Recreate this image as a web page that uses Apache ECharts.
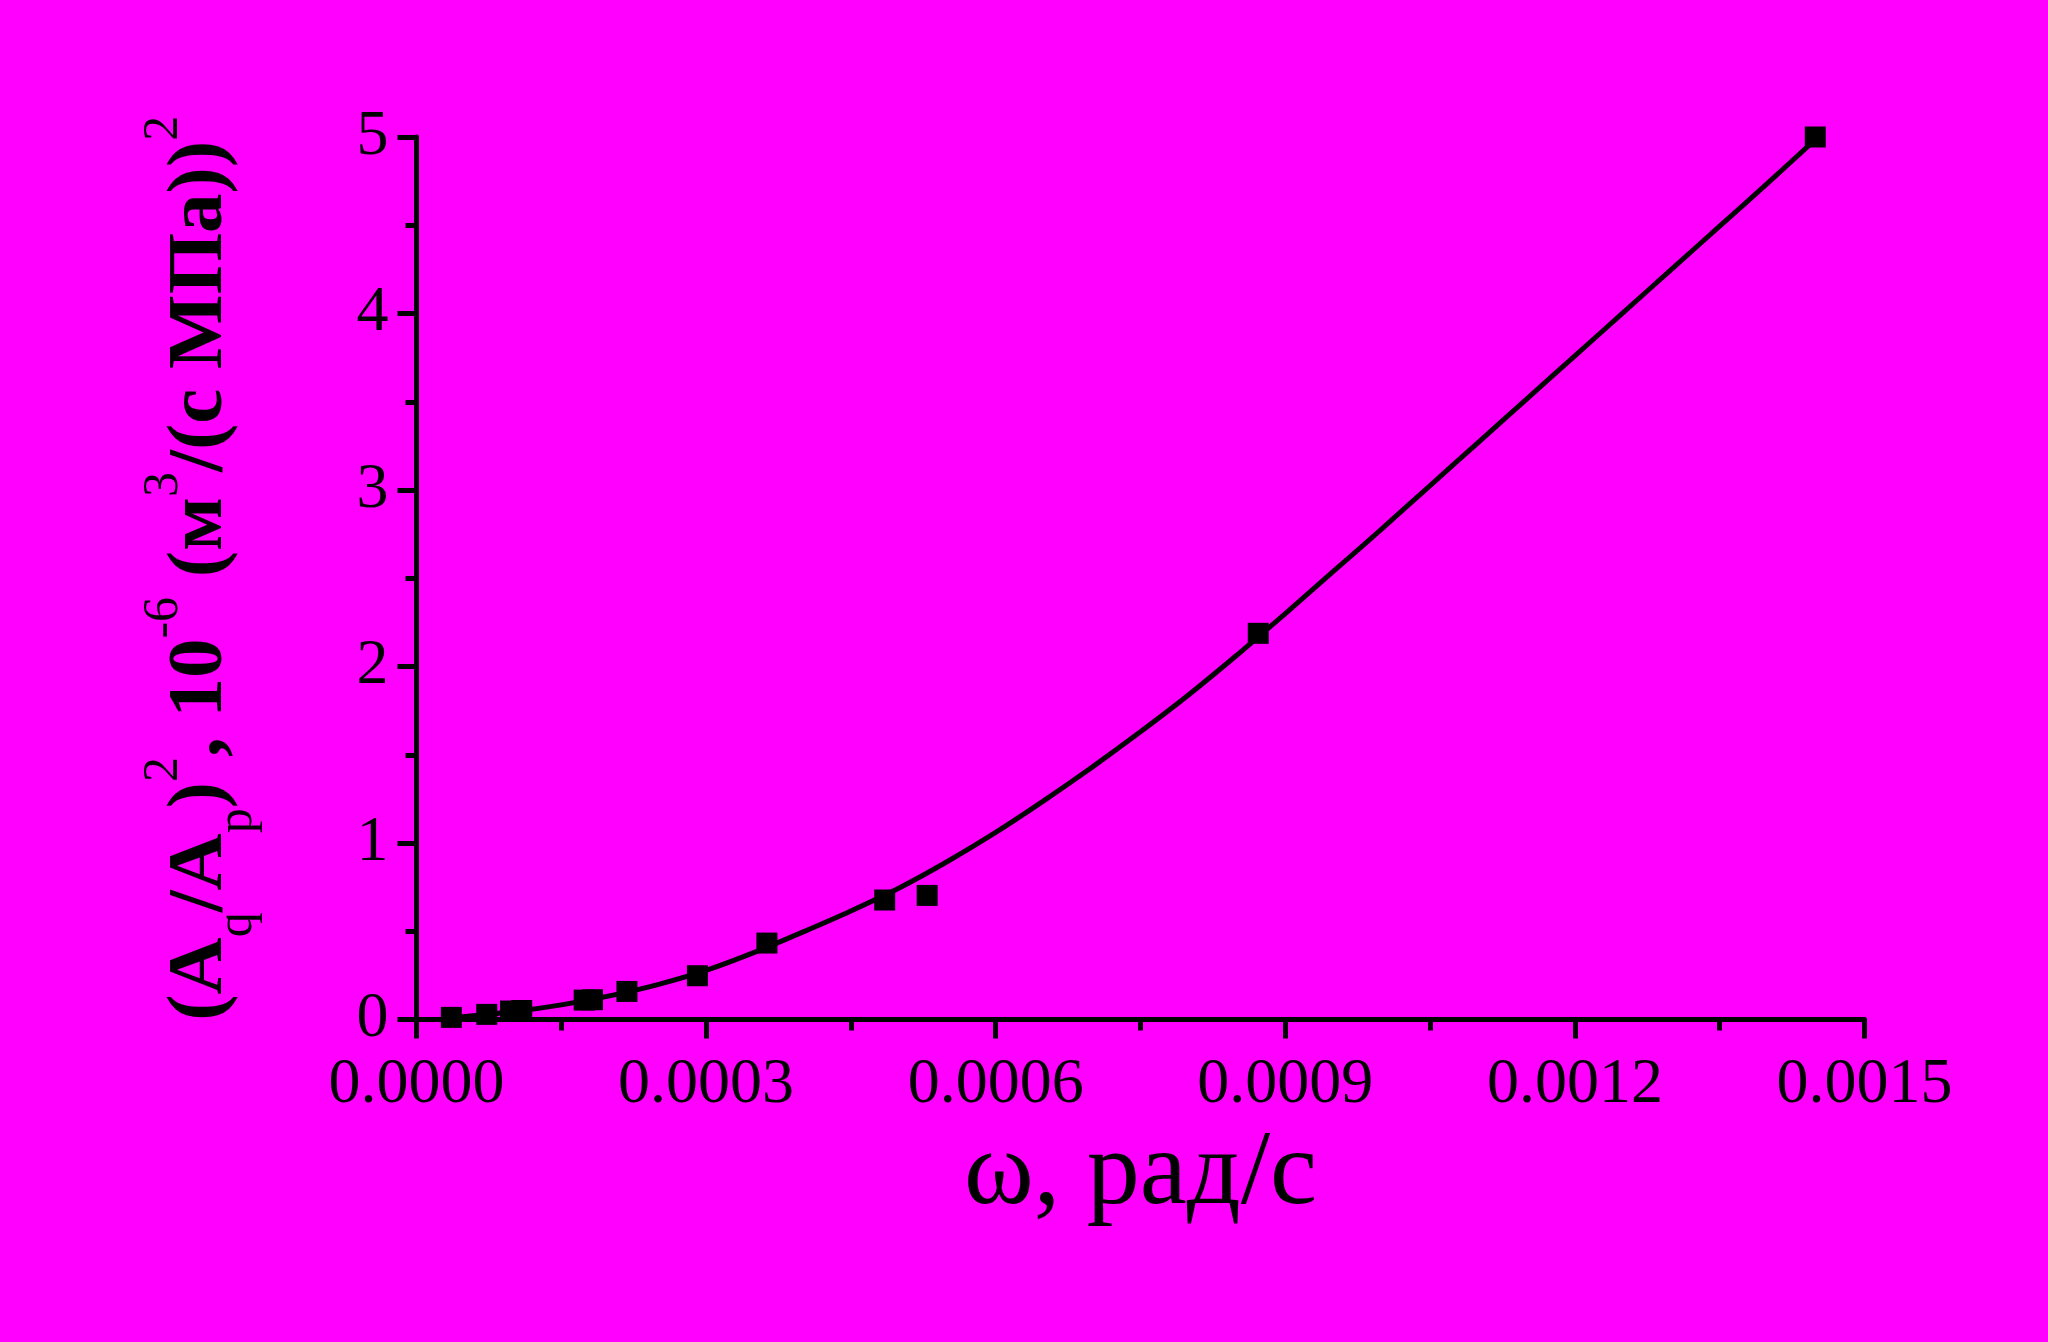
<!DOCTYPE html>
<html>
<head>
<meta charset="utf-8">
<script src="https://cdn.jsdelivr.net/npm/echarts@6/dist/echarts.min.js"></script>
<style>
html,body{margin:0;padding:0;background:#ff00ff;}
#chart{width:2048px;height:1342px;}
</style>
</head>
<body>
<div id="chart"></div>
<script>
// Measured points: omega (rad/s) and (Aq/Ap)^2 (10^-6 (m^3/(s MPa))^2)
const pointX = [0.0000361, 0.0000728, 0.0000974, 0.000109, 0.0001737, 0.0001823, 0.000218, 0.000291, 0.000363, 0.000485, 0.000529, 0.000872, 0.001449];
const pointY = [0.012, 0.029, 0.048, 0.051, 0.110, 0.112, 0.159, 0.248, 0.433, 0.677, 0.703, 2.188, 5.0];

// Fitted curve
const curveX = [0.0000361, 0.00005, 0.0001, 0.00015, 0.0002, 0.00025, 0.0003, 0.00035, 0.0004, 0.00045, 0.0005, 0.00055, 0.0006, 0.00065, 0.0007, 0.00075, 0.0008, 0.00085, 0.0009, 0.00095, 0.001, 0.00105, 0.0011, 0.00115, 0.0012, 0.00125, 0.0013, 0.00135, 0.0014, 0.001449];
const curveY = [0.012, 0.017, 0.044, 0.083, 0.134, 0.198, 0.278, 0.380, 0.495, 0.615, 0.745, 0.895, 1.060, 1.240, 1.430, 1.630, 1.840, 2.065, 2.300, 2.540, 2.780, 3.025, 3.270, 3.515, 3.760, 4.005, 4.250, 4.495, 4.740, 4.985];

const xTicks = {min: 0, max: 0.0015, interval: 0.0003};
const yTicks = {min: 0, max: 5, interval: 1};

const yTitle = '{n|(A}{sub|q}{n|/A}{sub|p}{n|)}{sup|2}{n|, 10}{sup|-6}{n| (м}{sup|3}{n|/(с МПа))}{sup|2}';
const xTitle = 'ω, рад/с';

const serif = '"Liberation Serif", "Times New Roman", serif';
const chart = echarts.init(document.getElementById('chart'), null, {renderer: 'canvas'});

const pts = pointX.map((x, i) => [x, pointY[i]]);
const crv = curveX.map((x, i) => [x, curveY[i]]);

chart.setOption({
  backgroundColor: '#ff00ff',
  animation: false,
  grid: {left: 416.5, right: 183.5, top: 137, bottom: 322.5},
  xAxis: {
    type: 'value', min: xTicks.min, max: xTicks.max, interval: xTicks.interval,
    name: xTitle, nameLocation: 'middle', nameGap: 96,
    nameTextStyle: {fontFamily: serif, fontSize: 106, color: '#000', lineHeight: 106},
    axisLine: {show: true, onZero: false, lineStyle: {color: '#000', width: 5}},
    axisTick: {show: true, inside: false, length: 19, lineStyle: {color: '#000', width: 5}},
    minorTick: {show: true, splitNumber: 2, length: 11, lineStyle: {color: '#000', width: 5}},
    splitLine: {show: false},
    axisLabel: {fontFamily: serif, fontSize: 64, color: '#000', margin: 34, lineHeight: 64,
      formatter: v => v.toFixed(4)}
  },
  yAxis: {
    type: 'value', min: yTicks.min, max: yTicks.max, interval: yTicks.interval,
    name: yTitle, nameLocation: 'middle', nameGap: 154, nameRotate: 90,
    nameTextStyle: {
      color: '#000',
      padding: [0, 0, 0, 20],
      rich: {
        n: {fontFamily: serif, fontSize: 79, fontWeight: 'bold', color: '#000', lineHeight: 124, verticalAlign: 'middle'},
        sup: {fontFamily: serif, fontSize: 50, color: '#000', lineHeight: 58, verticalAlign: 'top'},
        sub: {fontFamily: serif, fontSize: 50, color: '#000', lineHeight: 48, verticalAlign: 'bottom'}
      }
    },
    axisLine: {show: true, onZero: false, lineStyle: {color: '#000', width: 5}},
    axisTick: {show: true, inside: false, length: 19, lineStyle: {color: '#000', width: 5}},
    minorTick: {show: true, splitNumber: 2, length: 11, lineStyle: {color: '#000', width: 5}},
    splitLine: {show: false},
    axisLabel: {fontFamily: serif, fontSize: 64, color: '#000', margin: 28}
  },
  series: [
    {
      type: 'line', data: crv, smooth: 0.2, showSymbol: false, symbol: 'none',
      lineStyle: {color: '#000', width: 5}, z: 2
    },
    {
      type: 'scatter', data: pts, symbol: 'rect', symbolSize: 21,
      itemStyle: {color: '#000', opacity: 1}, z: 3
    }
  ]
});
</script>
</body>
</html>
